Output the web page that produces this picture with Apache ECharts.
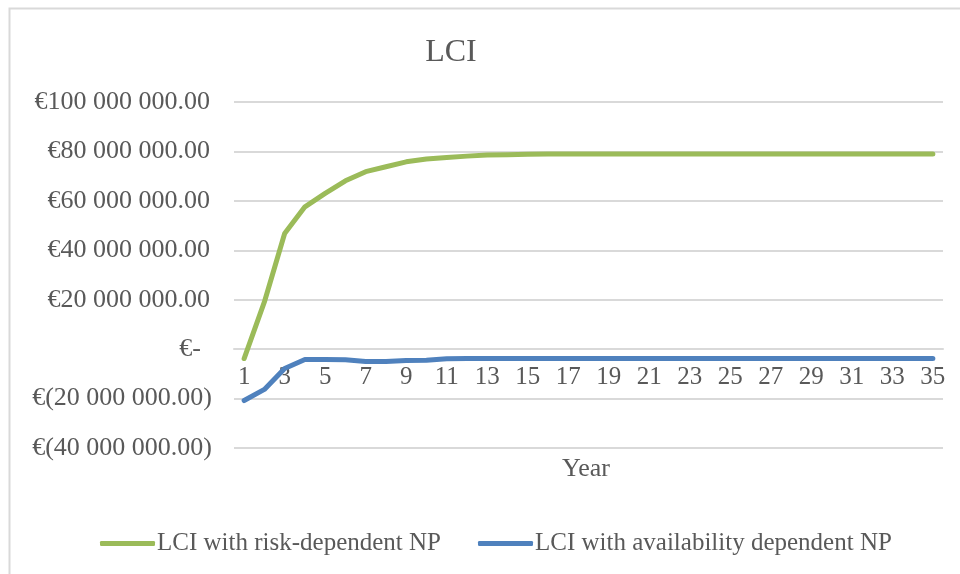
<!DOCTYPE html>
<html>
<head>
<meta charset="utf-8">
<script src="https://cdn.jsdelivr.net/npm/echarts@6/dist/echarts.min.js"></script>
<style>
html,body{margin:0;padding:0;background:#fff;}
#chart{width:960px;height:574px;}
</style>
</head>
<body>
<div id="chart"></div>
<script>
const years = Array.from({length: 35}, (_, i) => String(i + 1));
const riskDependent = [-3.8e6, 19.1e6, 46.8e6, 57.6e6, 63.0e6, 68.1e6, 71.8e6, 73.8e6, 75.8e6, 76.9e6,
  77.5e6, 78.1e6, 78.6e6, 78.7e6, 78.9e6, 79.0e6, 79.0e6, 79.0e6, 79.0e6, 79.0e6,
  79.0e6, 79.0e6, 79.0e6, 79.0e6, 79.0e6, 79.0e6, 79.0e6, 79.0e6, 79.0e6, 79.0e6,
  79.0e6, 79.0e6, 79.0e6, 79.0e6, 79.0e6];
const availabilityDependent = [-20.8e6, -16.3e6, -7.8e6, -4.2e6, -4.2e6, -4.3e6, -5.0e6, -5.0e6, -4.6e6, -4.5e6,
  -3.9e6, -3.8e6, -3.8e6, -3.8e6, -3.8e6, -3.8e6, -3.8e6, -3.8e6, -3.8e6, -3.8e6,
  -3.8e6, -3.8e6, -3.8e6, -3.8e6, -3.8e6, -3.8e6, -3.8e6, -3.8e6, -3.8e6, -3.8e6,
  -3.8e6, -3.8e6, -3.8e6, -3.8e6, -3.8e6];
const seriesNames = ['LCI with risk-dependent NP', 'LCI with availability dependent NP'];
const yMin = -40000000, yMax = 100000000, yStep = 20000000;

const FONT = 'Liberation Serif';
const TXT = '#595959';

function fmtNum(v) {
  const s = Math.abs(v).toFixed(2);
  const [ip, dp] = s.split('.');
  return ip.replace(/\B(?=(\d{3})+(?!\d))/g, ' ') + '.' + dp;
}
function yLabel(v) {
  if (v === 0) return '{z|€-}';
  if (v < 0) return '{n|€(' + fmtNum(v) + ')}';
  return '{p|€' + fmtNum(v) + '}';
}

const gridTop = 102, gridBottom = 126, H = 574;
const plotH = H - gridTop - gridBottom;
// move the category axis up so that it crosses the value axis at zero
const zeroOffset = -plotH * (0 - yMin) / (yMax - yMin);

const chart = echarts.init(document.getElementById('chart'), null, {renderer: 'canvas'});
chart.setOption({
  animation: false,
  backgroundColor: '#fff',
  title: {
    text: 'LCI', left: 446, top: 32, textAlign: 'center',
    textStyle: {fontFamily: FONT, fontSize: 32, fontWeight: 'normal', color: TXT}
  },
  graphic: [
    {type: 'rect', left: 7, top: 6, shape: {width: 965, height: 580}, style: {fill: 'none', stroke: '#d9d9d9', lineWidth: 2}, silent: true},
    {type: 'text', left: 562, top: 456, style: {text: 'Year', font: '26px "Liberation Serif"', fill: TXT}}
  ],
  legend: {
    left: 95, top: 526, itemWidth: 55, itemHeight: 5, itemGap: 37,
    icon: 'roundRect',
    textStyle: {fontFamily: FONT, fontSize: 25, color: TXT, padding: [0, 0, 0, -3]},
    data: seriesNames
  },
  grid: {left: 234, right: 17, top: gridTop, bottom: gridBottom, containLabel: false},
  xAxis: {
    type: 'category', data: years, boundaryGap: true,
    offset: zeroOffset,
    axisLine: {show: true, onZero: false, lineStyle: {color: '#d9d9d9', width: 2}},
    axisTick: {show: false},
    axisLabel: {interval: 1, margin: 16, fontFamily: FONT, fontSize: 25, color: TXT}
  },
  yAxis: {
    type: 'value', min: yMin, max: yMax, interval: yStep,
    axisLine: {show: false}, axisTick: {show: false},
    splitLine: {lineStyle: {color: '#d9d9d9', width: 2}},
    axisLabel: {
      margin: 22, formatter: yLabel, fontFamily: FONT, fontSize: 26, color: TXT,
      rich: {
        p: {fontFamily: FONT, fontSize: 26, color: TXT, padding: [0, 2, 0, 0]},
        n: {fontFamily: FONT, fontSize: 26, color: TXT},
        z: {fontFamily: FONT, fontSize: 26, color: TXT, padding: [0, 11, 0, 0]}
      }
    }
  },
  series: [
    {name: seriesNames[0], type: 'line', data: riskDependent, showSymbol: false, symbol: 'none',
      lineStyle: {color: '#9BBB59', width: 5, cap: 'round', join: 'round'}, itemStyle: {color: '#9BBB59'}},
    {name: seriesNames[1], type: 'line', data: availabilityDependent, showSymbol: false, symbol: 'none',
      lineStyle: {color: '#4F81BD', width: 5, cap: 'round', join: 'round'}, itemStyle: {color: '#4F81BD'}}
  ]
});
</script>
</body>
</html>
